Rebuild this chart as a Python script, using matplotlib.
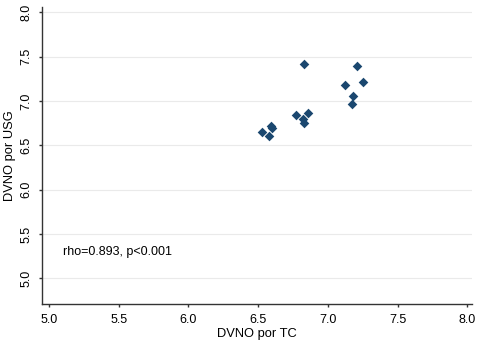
import matplotlib
matplotlib.use("Agg")
import matplotlib.pyplot as plt

plt.rcParams['font.family'] = ['Liberation Sans', 'DejaVu Sans']

dvno_tc = [6.83, 7.21, 7.25, 7.12, 7.18, 7.17, 6.855, 6.77, 6.82, 6.83, 6.59, 6.60, 6.53, 6.58]
dvno_usg = [7.42, 7.39, 7.21, 7.18, 7.06, 6.97, 6.86, 6.84, 6.80, 6.75, 6.72, 6.69, 6.65, 6.60]
ticks = [5.0, 5.5, 6.0, 6.5, 7.0, 7.5, 8.0]
tick_labels = ["5.0", "5.5", "6.0", "6.5", "7.0", "7.5", "8.0"]
annotation = "rho=0.893, p<0.001"

fig = plt.figure(figsize=(4.8, 3.46), dpi=100)
ax = fig.add_axes([0.0875, 0.122, 0.895, 0.858])

ax.scatter(dvno_tc, dvno_usg, marker='D', s=24, color='#1a476f', zorder=3, linewidths=0)

ax.set_xlim(4.95, 8.03)
ax.set_ylim(4.714, 8.06)
ax.set_xticks(ticks)
ax.set_xticklabels(tick_labels, fontsize=9)
ax.set_yticks(ticks)
ax.set_yticklabels(tick_labels, fontsize=9, rotation=90, va='center')

ax.grid(axis='y', color='#eaeaea', linewidth=0.8)
ax.set_axisbelow(True)
for s in ['top', 'right']:
    ax.spines[s].set_visible(False)
for s in ['left', 'bottom']:
    ax.spines[s].set_linewidth(1.0)
    ax.spines[s].set_color('#333333')
ax.tick_params(length=2.5, width=1.0, color='#333333', pad=4.5)

ax.set_xlabel("DVNO por TC", fontsize=9.3, labelpad=2)
ax.set_ylabel("DVNO por USG", fontsize=9.3, labelpad=3)

ax.text(5.10, 5.30, annotation, fontsize=9, va='center', ha='left')

fig.savefig("out.png", dpi=100)
